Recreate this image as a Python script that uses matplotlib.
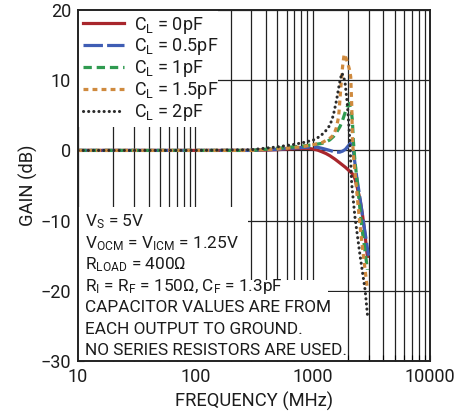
import numpy as np
import matplotlib
matplotlib.use("Agg")
import matplotlib.pyplot as plt
from matplotlib.patches import Rectangle
from matplotlib.ticker import FixedLocator, FixedFormatter, NullFormatter

FONT = ["Roboto", "DejaVu Sans"]
plt.rcParams["font.family"] = FONT
plt.rcParams["mathtext.fontset"] = "custom"
plt.rcParams["mathtext.rm"] = "Roboto"
plt.rcParams["mathtext.it"] = "Roboto"
plt.rcParams["lines.scale_dashes"] = False

# ── data (frequency in MHz, gain in dB) ──────────────────────────────────────
f_0pf = [10, 100, 300, 500, 700, 900, 1000, 1100, 1200, 1300, 1400, 1550, 1710, 1900,
         2080, 2200, 2290, 2400, 2540, 2650, 2750, 2850, 2925]
g_0pf = [0, 0, 0, 0.1, 0.25, 0.3, 0.2, 0.05, -0.2, -0.45, -0.75, -1.25, -1.8, -2.4,
         -3.0, -3.4, -4.0, -5.3, -7.1, -9.0, -11.0, -13.3, -15.1]

f_05pf = [10, 100, 300, 500, 700, 1000, 1100, 1200, 1300, 1400, 1500, 1600, 1700, 1800,
          1900, 2000, 2100, 2160, 2220, 2375, 2500, 2690, 2850, 2990]
g_05pf = [0, 0, 0, 0.15, 0.35, 0.5, 0.45, 0.3, 0.15, 0.0, -0.15, -0.25, -0.25, -0.1,
          0.15, 0.6, 1.0, 0.7, 0.0, -3.8, -6.2, -9.9, -12.6, -15.0]

f_1pf = [10, 100, 300, 500, 800, 1000, 1200, 1300, 1400, 1510, 1600, 1710, 1800, 1900,
         1980, 2050, 2120, 2180, 2220, 2290, 2450, 2620, 2780, 2930]
g_1pf = [0, 0, 0, 0.3, 0.6, 0.8, 1.0, 1.2, 1.5, 2.0, 2.6, 3.4, 4.3, 5.5,
         6.3, 6.7, 6.0, 4.3, 1.5, -1.4, -6.0, -10.9, -14.0, -17.0]

f_15pf = [10, 100, 300, 500, 800, 1000, 1200, 1325, 1420, 1510, 1590, 1665, 1740, 1800,
          1855, 1920, 2000, 2060, 2110, 2155, 2180, 2225, 2380, 2540, 2730, 2920]
g_15pf = [0, 0, 0, 0.2, 0.5, 0.8, 1.1, 1.5, 1.8, 2.2, 3.2, 4.8, 9.1, 12.0,
          13.7, 13.2, 12.3, 11.5, 10.5, 6.2, 2.0, -0.7, -6.0, -10.9, -15.5, -19.6]

f_2pf = [10, 100, 300, 500, 690, 850, 1020, 1155, 1280, 1405, 1500, 1600, 1690, 1770,
         1830, 1890, 1970, 2040, 2090, 2150, 2290, 2540, 2800, 2930]
g_2pf = [0, 0, 0.1, 0.5, 0.85, 1.15, 1.5, 2.0, 2.7, 3.6, 5.0, 7.2, 9.5, 11.0,
         10.6, 9.6, 6.8, 3.4, 0.0, -4.7, -9.4, -15.1, -19.9, -23.4]

labels = ["C$_\\mathrm{L}$ = 0pF", "C$_\\mathrm{L}$ = 0.5pF", "C$_\\mathrm{L}$ = 1pF",
          "C$_\\mathrm{L}$ = 1.5pF", "C$_\\mathrm{L}$ = 2pF"]

notes = [
    "V$_\\mathrm{S}$ = 5V",
    "V$_\\mathrm{OCM}$ = V$_\\mathrm{ICM}$ = 1.25V",
    "R$_\\mathrm{LOAD}$ = 400Ω",
    "R$_\\mathrm{I}$ = R$_\\mathrm{F}$ = 150Ω, C$_\\mathrm{F}$ = 1.3pF",
    "CAPACITOR VALUES ARE FROM",
    "EACH OUTPUT TO GROUND.",
    "NO SERIES RESISTORS ARE USED.",
]

x_major = [10, 100, 1000, 10000]
x_major_labels = ["10", "100", "1000", "10000"]
y_ticks = [20, 10, 0, -10, -20, -30]
y_tick_labels = ["20", "10", "0", "\u221210", "\u221220", "\u221230"]

FS = 12.4
TXT = "#1c1c1c"

# ── figure ────────────────────────────────────────────────────────────────────
fig = plt.figure(figsize=(4.63, 4.19), dpi=100)
ax = fig.add_axes([0.1685, 0.1384, 0.7602, 0.8377])
ax.set_xscale("log")
ax.set_xlim(10, 10000)
ax.set_ylim(-30, 20)

minor = [m * 10 ** d for d in range(1, 4) for m in range(2, 10)]
ax.xaxis.set_major_locator(FixedLocator(x_major))
ax.xaxis.set_major_formatter(FixedFormatter(x_major_labels))
ax.xaxis.set_minor_locator(FixedLocator(minor))
ax.xaxis.set_minor_formatter(NullFormatter())
ax.yaxis.set_major_locator(FixedLocator(y_ticks))
ax.yaxis.set_major_formatter(FixedFormatter(y_tick_labels))

ax.grid(True, which="both", axis="x", color="#222222", lw=0.9)
ax.grid(True, which="major", axis="y", color="#222222", lw=0.9)
ax.tick_params(which="both", direction="in", length=4, width=0.8, labelsize=13,
               pad=5, labelcolor=TXT)
for s in ax.spines.values():
    s.set_linewidth(1.4)
    s.set_color("#222222")

# white panels behind legend and notes (hide the grid like the original)
for (x0, y0, w, h) in [(0, 0.667, 0.398, 0.333), (0, 0, 0.483, 0.439),
                       (0, 0, 0.710, 0.231), (0, 0, 0.765, 0.198)]:
    ax.add_patch(Rectangle((x0, y0), w, h, transform=ax.transAxes,
                           facecolor="white", edgecolor="none", zorder=1.7))

lw = 2.3
ax.plot(f_0pf, g_0pf, color="#a8262c", lw=lw, label=labels[0], zorder=2)
ax.plot(f_05pf, g_05pf, color="#3f5db4", lw=lw, dashes=(14, 3), label=labels[1], zorder=2.1)
ax.plot(f_1pf, g_1pf, color="#2f9a50", lw=lw, dashes=(6, 3.5), label=labels[2], zorder=2.2)
ax.plot(f_15pf, g_15pf, color="#cf8a3e", lw=lw, dashes=(3.5, 3), label=labels[3], zorder=2.3)
ax.plot(f_2pf, g_2pf, color="#2a2a2a", lw=2.2, dashes=(0.1, 3.6), dash_capstyle="round",
        label=labels[4], zorder=2.4)

leg = ax.legend(loc="upper left", bbox_to_anchor=(0.0, 1.0), frameon=False,
                fontsize=FS + 0.6, handlelength=2.3, handletextpad=0.55,
                labelspacing=0.05, borderpad=0.1, borderaxespad=0.15)
for t in leg.get_texts():
    t.set_color(TXT)

# notes block
y0_px = 226.7
for i, line in enumerate(notes):
    y_px = y0_px + i * 21.4
    ax.text(0.019, (361 - y_px) / 351, line, transform=ax.transAxes,
            fontsize=FS, ha="left", va="baseline", color=TXT, zorder=3)

ax.set_xlabel("FREQUENCY (MHz)", fontsize=FS + 0.8, labelpad=4, color=TXT)
ax.set_ylabel("GAIN (dB)", fontsize=FS + 0.8, labelpad=2, color=TXT)

fig.savefig("out.png", dpi=100)
